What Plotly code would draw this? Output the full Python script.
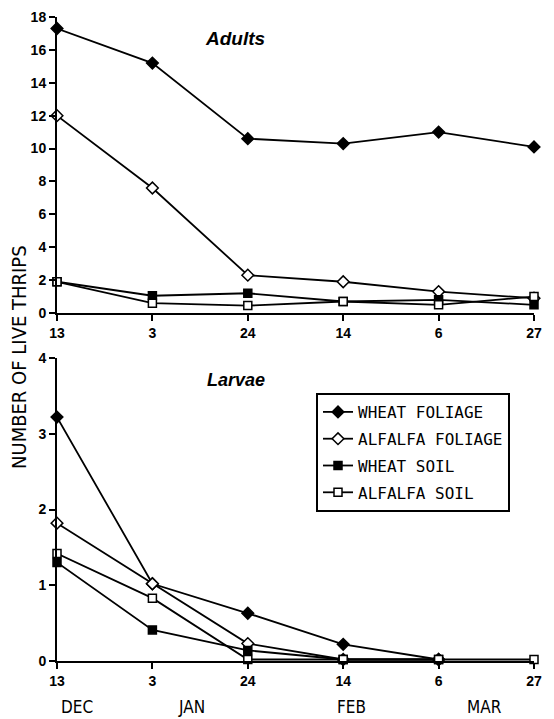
import plotly.graph_objects as go

dates = ["13", "3", "24", "14", "6", "27"]
months = ["DEC", "JAN", "FEB", "MAR"]
series_names = ["WHEAT FOLIAGE", "ALFALFA FOLIAGE", "WHEAT SOIL", "ALFALFA SOIL"]

adults_wheat_foliage = [17.3, 15.2, 10.6, 10.3, 11.0, 10.1]
adults_alfalfa_foliage = [12.0, 7.6, 2.3, 1.9, 1.3, 0.9]
adults_wheat_soil = [1.9, 1.05, 1.2, 0.7, 0.8, 0.5]
adults_alfalfa_soil = [1.9, 0.6, 0.45, 0.7, 0.5, 1.0]

larvae_wheat_foliage = [3.22, 1.02, 0.63, 0.22, 0.02, None]
larvae_alfalfa_foliage = [1.82, 1.02, 0.23, 0.02, 0.02, None]
larvae_wheat_soil = [1.3, 0.41, 0.14, 0.02, 0.02, None]
larvae_alfalfa_soil = [1.42, 0.83, 0.02, 0.02, 0.02, 0.02]

xs = list(range(len(dates)))

# page body has an 8px offset; figure sized to fill the rest of the viewport
OFF = 8
W, H = 554 - OFF, 719 - OFF


def fx(px):
    return (px - OFF) / W


def fy(py):
    return 1 - (py - OFF) / H


markers = [
    dict(symbol="diamond", size=9, color="black", line=dict(color="black", width=1.5)),
    dict(symbol="diamond", size=9, color="white", line=dict(color="black", width=1.5)),
    dict(symbol="square", size=8, color="black", line=dict(color="black", width=1.5)),
    dict(symbol="square", size=8, color="white", line=dict(color="black", width=1.5)),
]

fig = go.Figure()

adult_series = [adults_wheat_foliage, adults_alfalfa_foliage, adults_wheat_soil, adults_alfalfa_soil]
larvae_series = [larvae_wheat_foliage, larvae_alfalfa_foliage, larvae_wheat_soil, larvae_alfalfa_soil]

for name, ys, mk in zip(series_names, adult_series, markers):
    fig.add_trace(go.Scatter(x=xs, y=ys, mode="lines+markers", name=name, showlegend=False,
                             line=dict(color="black", width=1.8), marker=mk,
                             cliponaxis=False, xaxis="x", yaxis="y"))
for name, ys, mk in zip(series_names, larvae_series, markers):
    fig.add_trace(go.Scatter(x=xs, y=ys, mode="lines+markers", name=name, showlegend=True,
                             legendgroup=name,
                             line=dict(color="black", width=1.8), marker=mk,
                             cliponaxis=False, xaxis="x2", yaxis="y2"))

tickfont = dict(family="Liberation Sans", size=14, color="black", weight="bold")
axis_common = dict(showline=True, linecolor="black", linewidth=2, ticks="outside",
                   ticklen=6, tickwidth=1.5, tickcolor="black", showgrid=False,
                   zeroline=False, tickfont=tickfont, automargin=False)

xdom = [fx(57), fx(534)]

fig.update_layout(
    width=W, height=H,
    margin=dict(l=0, r=0, t=0, b=0, autoexpand=False),
    paper_bgcolor="white", plot_bgcolor="white",
    xaxis=dict(domain=xdom, range=[0, 5], tickvals=xs, ticktext=dates,
               anchor="y", **axis_common),
    yaxis=dict(domain=[fy(313), fy(17)], range=[0, 18], tickvals=list(range(0, 19, 2)),
               anchor="x", **axis_common),
    xaxis2=dict(domain=xdom, range=[0, 5], tickvals=xs, ticktext=dates,
                anchor="y2", **axis_common),
    yaxis2=dict(domain=[fy(661), fy(358)], range=[0, 4], tickvals=[0, 1, 2, 3, 4],
                anchor="x2", **axis_common),
    legend=dict(x=fx(316), y=fy(393), xanchor="left", yanchor="top",
                bordercolor="black", borderwidth=2, bgcolor="white",
                font=dict(family="DejaVu Sans Mono", size=16, color="black"),
                itemwidth=30, tracegroupgap=3, traceorder="grouped"),
    showlegend=True,
)

month_pos = [77, 191, 351, 484]
for m, px in zip(months, month_pos):
    fig.add_annotation(x=fx(px), y=fy(707), xref="paper", yref="paper",
                       text=m, showarrow=False, xanchor="center", yanchor="middle",
                       font=dict(family="DejaVu Sans Condensed", size=17, color="black"))

fig.add_annotation(x=fx(235), y=fy(38), xref="paper", yref="paper", text="<b><i>Adults</i></b>",
                   showarrow=False, xanchor="center", yanchor="middle",
                   font=dict(family="Liberation Sans", size=19, color="black"))
fig.add_annotation(x=fx(236), y=fy(380), xref="paper", yref="paper", text="<b><i>Larvae</i></b>",
                   showarrow=False, xanchor="center", yanchor="middle",
                   font=dict(family="Liberation Sans", size=18, color="black"))
fig.add_annotation(x=fx(19), y=fy(357), xref="paper", yref="paper",
                   text="NUMBER OF LIVE THRIPS", textangle=-90, showarrow=False,
                   xanchor="center", yanchor="middle",
                   font=dict(family="DejaVu Sans Condensed", size=20, color="black"))

fig.write_html("out.html")
